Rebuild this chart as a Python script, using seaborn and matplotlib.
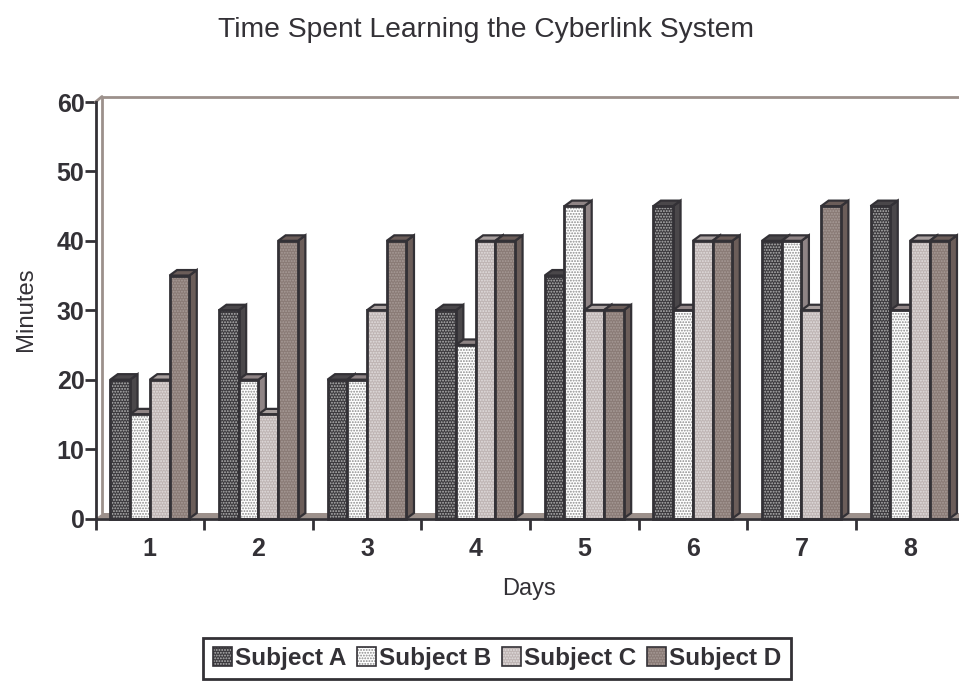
import numpy as np
import pandas as pd
import matplotlib
matplotlib.use("Agg")
import matplotlib.pyplot as plt
import seaborn as sns
from matplotlib.colors import to_rgba
from matplotlib.patches import Polygon, Patch
from matplotlib.transforms import IdentityTransform

days = ["1", "2", "3", "4", "5", "6", "7", "8"]
subject_a = [20, 30, 20, 30, 35, 45, 40, 45]
subject_b = [15, 20, 20, 25, 45, 30, 40, 30]
subject_c = [20, 15, 30, 40, 30, 40, 30, 40]
subject_d = [35, 40, 40, 40, 30, 40, 45, 40]
names = ["Subject A", "Subject B", "Subject C", "Subject D"]
title = "Time Spent Learning the Cyberlink System"

ink = "#333136"
face = ["#3c3a3e", "#ffffff", "#bfb5b4", "#8a7b76"]
dots = ["#b5b5b5", "#8a8a8a", "#e2dede", "#a89c98"]
side = ["#4a474a", "#8f8485", "#a89f9e", "#6b5d59"]
wall = "#9c908b"

sns.set_theme(style="white")
plt.rcParams["font.family"] = ["Liberation Sans", "DejaVu Sans"]
plt.rcParams["hatch.linewidth"] = 0.9

W, H = 959, 681
fig = plt.figure(figsize=(W / 100, H / 100), dpi=100)
ax = fig.add_axes([95.5 / W, 1 - 518.5 / H, (W - 95.5) / W, (518.5 - 102) / H])

df = pd.DataFrame({
    "day": days * 4,
    "subject": [n for n in names for _ in days],
    "minutes": subject_a + subject_b + subject_c + subject_d,
})
sns.barplot(data=df, x="day", y="minutes", hue="subject", order=days, hue_order=names,
            palette=dict(zip(names, face)), width=0.727, gap=0, legend=False, ax=ax,
            saturation=1, errorbar=None)

ax.set_ylim(0, 60)
ax.set_xlim(-0.5, -0.5 + (W - 95.5) / 108.6)
fig.canvas.draw()

DX, DY = 7.5, 5.5
ident = IdentityTransform()

def poly(points, fc, z, lw=1.6, ec=ink):
    p = Polygon(points, closed=True, facecolor=fc, edgecolor=ec, linewidth=lw,
                transform=ident, zorder=z, clip_on=True, joinstyle="miter")
    ax.add_patch(p)
    p.set_clip_box(fig.bbox)
    return p

# back wall and floor
x0, y0 = ax.transData.transform((-0.5, 0))
x1, y1 = ax.transData.transform((ax.get_xlim()[1], 60))
poly([(x0, y0), (x0 + DX, y0 + DY), (x1 + 10, y0 + DY), (x1 + 10, y0)], wall, 0.5, lw=0)
ax.plot([x0 + DX - 1, x0 + DX - 1, x1 + 10], [y0 + DY, y1 + DY, y1 + DY], color=wall, lw=2,
        transform=ident, zorder=0.6, clip_on=False, solid_joinstyle="miter")
ax.plot([x0, x0 + DX - 1], [y1, y1 + DY], color=wall, lw=2, transform=ident, zorder=0.6, clip_on=False)

for i, cont in enumerate(ax.containers):
    for j, bar in enumerate(cont):
        z = 2 + j * 10 + i * 2
        (l, b), (r, t) = ax.transData.transform(
            [(bar.get_x(), 0), (bar.get_x() + bar.get_width(), bar.get_height())])
        poly([(r, b), (r + DX, b + DY), (r + DX, t + DY), (r, t)], side[i], z)
        poly([(l, t), (l + DX, t + DY), (r + DX, t + DY), (r, t)], side[i], z)
        bar.set_zorder(z + 1)
        bar.set_hatch("......")
        bar.set_edgecolor(dots[i])
        bar.set_linewidth(0)
        poly([(l, b), (r, b), (r, t), (l, t)], "none", z + 1.5, lw=2.0)

# axes styling
sns.despine(ax=ax, top=True, right=True)
for s in ("left", "bottom"):
    ax.spines[s].set_color(ink)
    ax.spines[s].set_linewidth(2)
    ax.spines[s].set_zorder(200)
ax.patch.set_alpha(0)
ax.set_yticks(np.arange(0, 61, 10))
ax.set_xticks(np.arange(len(days)) - 0.5, minor=True)
ax.tick_params(axis="x", which="major", length=0, pad=13, labelsize=18, labelcolor=ink)
ax.tick_params(axis="x", which="minor", length=8, width=2, color=ink, bottom=True)
ax.tick_params(axis="y", length=8, width=2, color=ink, left=True, labelsize=18, labelcolor=ink, pad=0)
for lab in ax.get_xticklabels() + ax.get_yticklabels():
    lab.set_fontweight("bold")
ax.set_xlabel("")
ax.set_ylabel("")

fig.text(486.5 / W, 1 - 30 / H, title, ha="center", va="center", fontsize=20.3, color=ink)
fig.text(529 / W, 1 - 589 / H, "Days", ha="center", va="center", fontsize=17, color=ink)
fig.text(26 / W, 1 - 309 / H, "Minutes", ha="center", va="center", rotation=90, fontsize=17.2, color=ink)

handles = [Patch(facecolor=face[k], edgecolor=ink, linewidth=1.2, label=names[k]) for k in range(4)]
leg = fig.legend(handles=handles, ncol=4, loc="center", bbox_to_anchor=(497 / W, 1 - 658.5 / H),
                 fancybox=False, framealpha=1, edgecolor=ink, handlelength=0.8, handleheight=0.8,
                 handletextpad=0.12, columnspacing=0.43, borderpad=0.38, borderaxespad=0,
                 prop={"family": "Liberation Sans", "weight": "bold", "size": 17.5})
leg.get_frame().set_linewidth(2)
for t in leg.get_texts():
    t.set_color(ink)
for h, c in zip(leg.legend_handles, dots):
    h.set_hatch("......")
    h._hatch_color = to_rgba(c)

fig.savefig("out.png", dpi=100)
